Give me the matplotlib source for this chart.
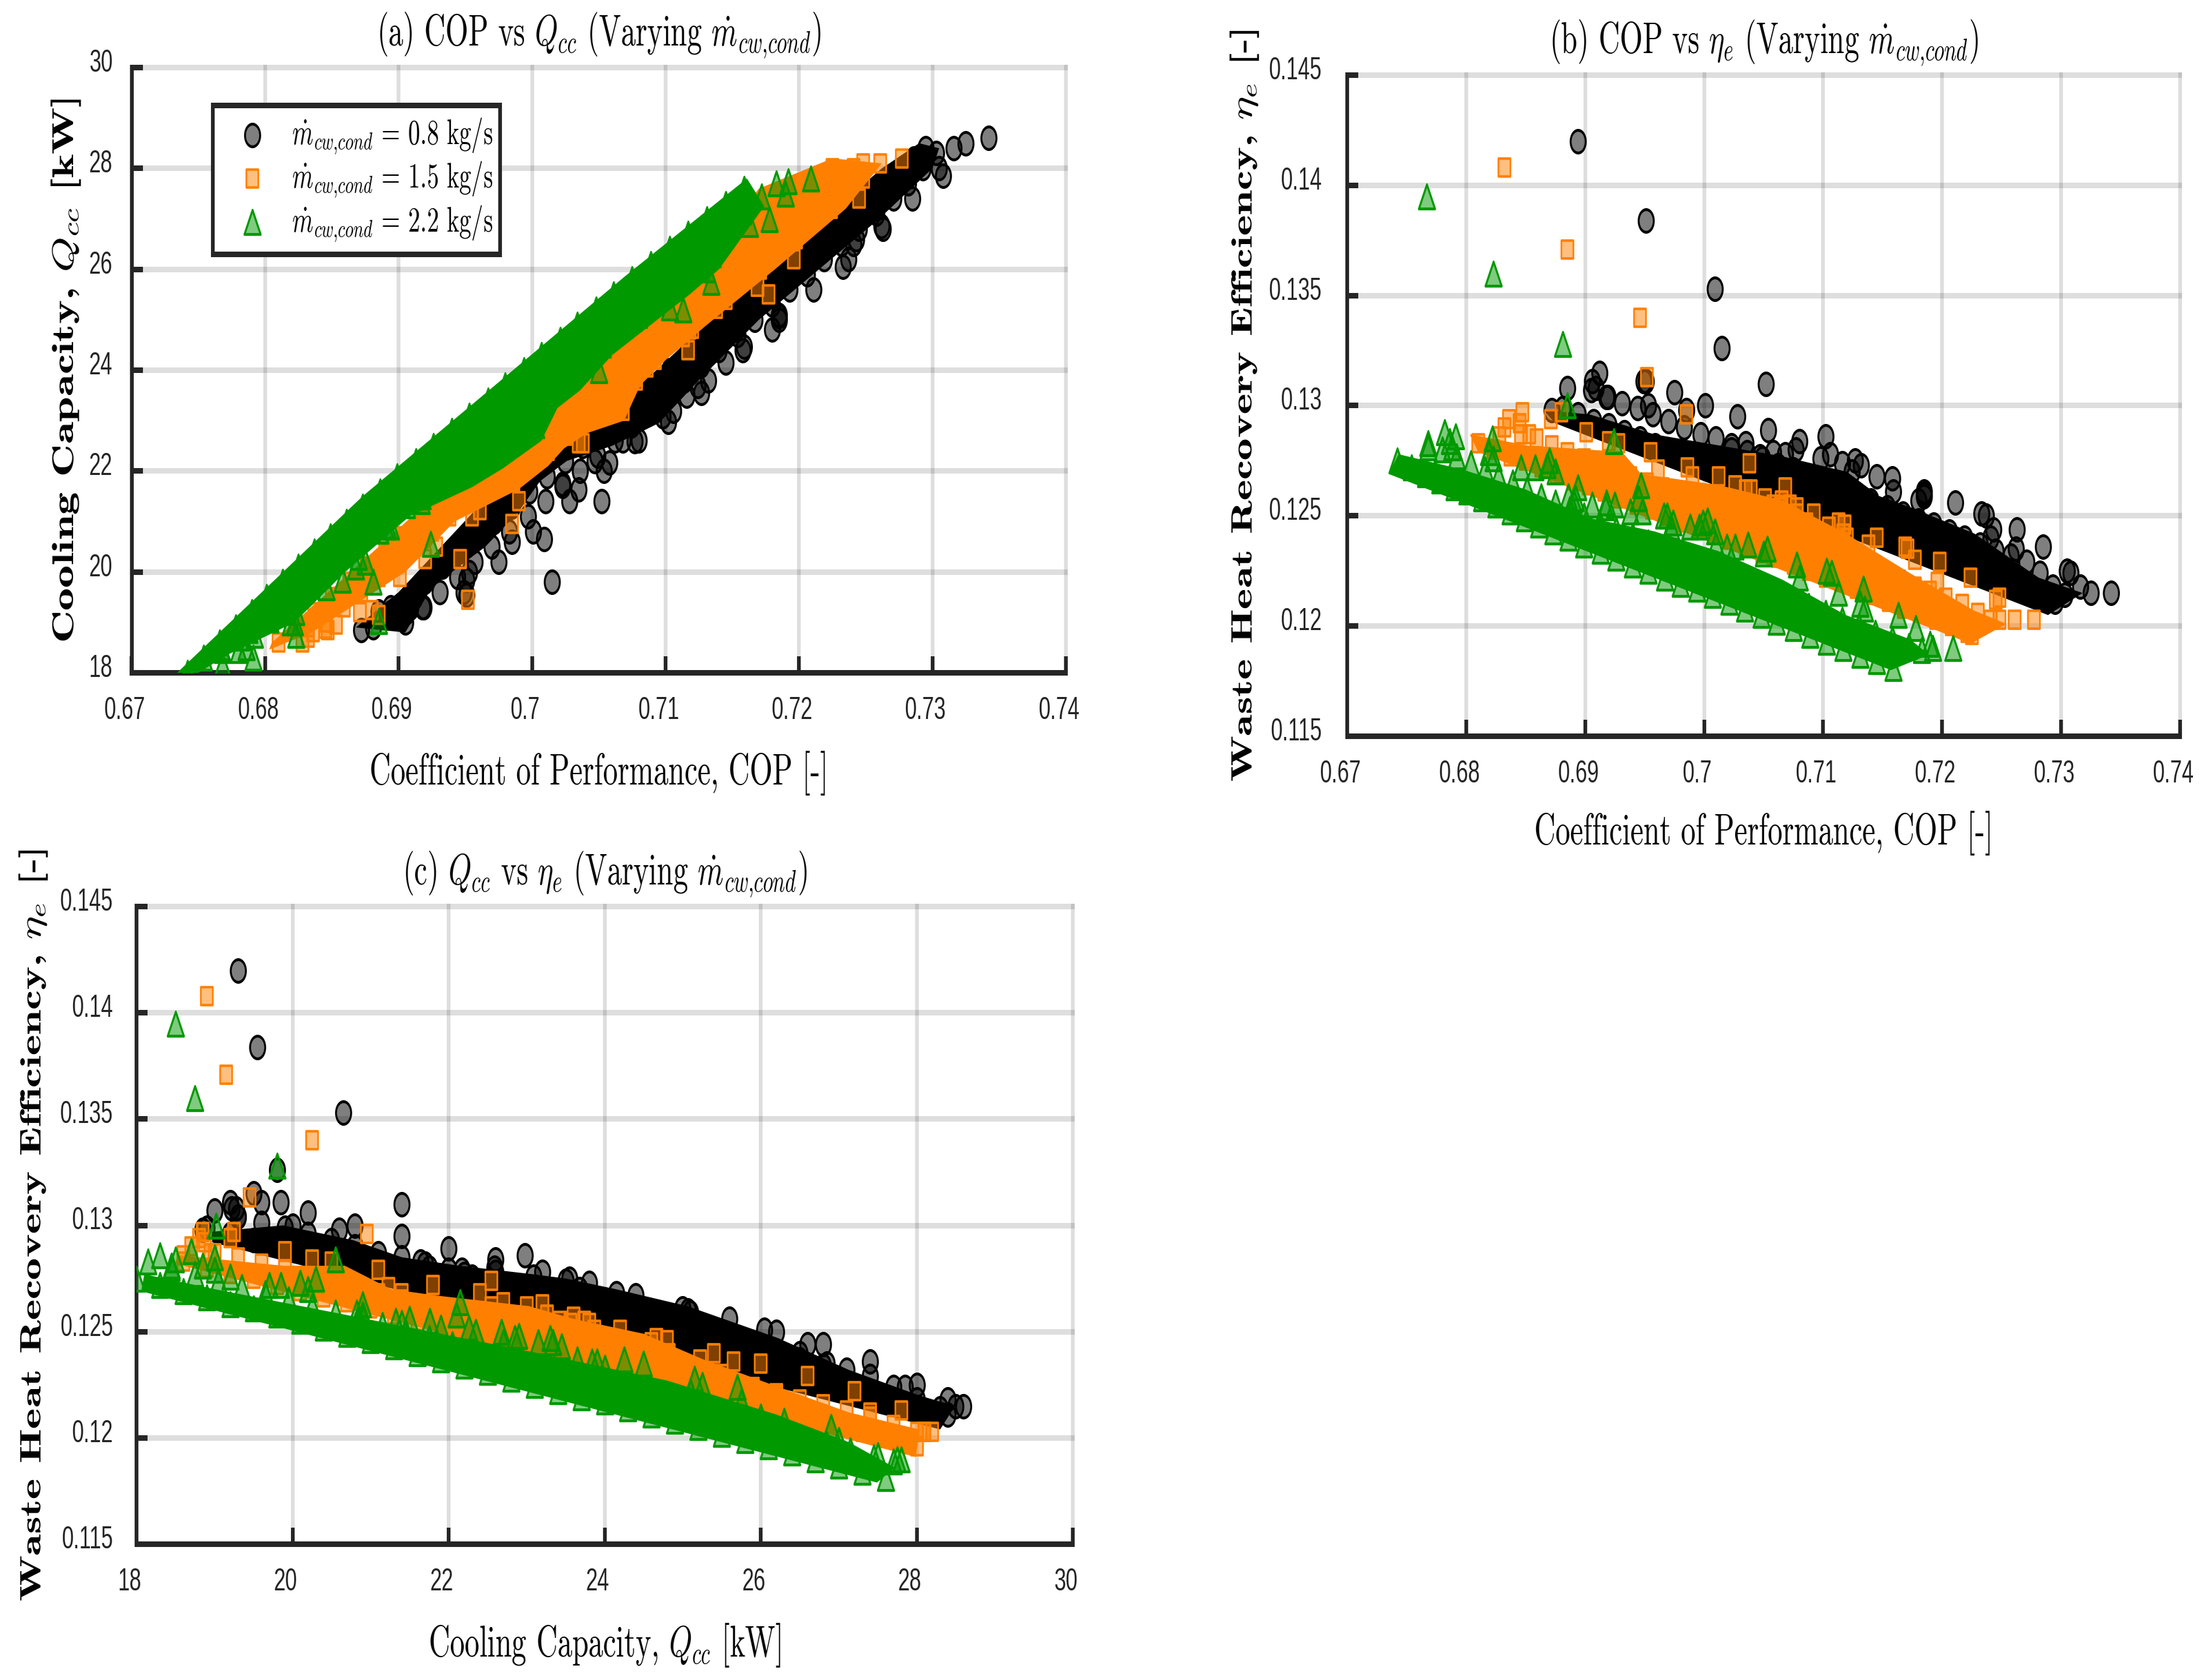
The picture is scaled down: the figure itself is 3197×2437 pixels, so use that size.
import io
import matplotlib
matplotlib.use('Agg')
import matplotlib.pyplot as plt
from matplotlib.transforms import ScaledTranslation
from PIL import Image

# values: rows along each band, then the loose points
black_cop = [
    .6872, .6881, .6894, .6907, .6920, .6933, .6946, .6959, .6972, .6985, .6998, .7011, .7025, .7038, .7051, .7064, .7077,
    .7090, .7103, .7116, .7129, .7142, .7155, .7168, .7181, .7195, .7208, .7221, .7234, .7247, .7260, .7273, .7286, .7295,
    .6905, .6918, .6931, .6944, .6957, .6970, .6983, .6997, .7010, .7023, .7036, .7049, .7062, .7075, .7088, .7101,
    .7114, .7127, .7140, .7154, .7167, .7180, .7193, .7206, .7219, .7232, .7245, .7258, .7271, .7282, .7293, .7303,
    .6949, .6975, .7001, .7028, .7054, .7080, .7106, .7132, .7158, .7185, .7211, .7237, .7263, .7285, .7305, .7316,
    .6894, .6951, .7009, .7015, .7052, .6912, .6906, .6909, .6885, .6919, .6951, .6953, .6985, .7102, .7127, .7185,
    .7233, .7243, .7262, .7308, .7325, .7342, .7023, .7047, .7068, .7241, .7180,
    .7035, .7058, .7077, .7098, .7116, .7124, .7145, .7159, .7185]
black_q = [
    18.85, 18.9, 19.2, 19.5, 19.8, 20.1, 20.4, 20.7, 21.0, 21.3, 21.6, 21.9, 22.2, 22.5, 22.8, 23.1, 23.4,
    23.7, 24.0, 24.3, 24.6, 24.9, 25.2, 25.5, 25.8, 26.1, 26.4, 26.7, 27.0, 27.3, 27.6, 27.9, 28.2, 28.4,
    19.0, 19.3, 19.6, 19.9, 20.2, 20.5, 20.8, 21.1, 21.4, 21.7, 22.0, 22.3, 22.6, 22.9, 23.2, 23.5,
    23.8, 24.1, 24.4, 24.7, 25.0, 25.3, 25.6, 25.9, 26.2, 26.5, 26.8, 27.1, 27.4, 27.7, 28.0, 28.3,
    19.6, 20.2, 20.8, 21.4, 22.0, 22.6, 23.2, 23.8, 24.4, 25.0, 25.6, 26.2, 26.8, 27.4, 28.0, 28.4,
    19.30, 19.55, 20.65, 19.80, 21.40, 19.50, 19.20, 19.28, 19.22, 19.30, 19.85, 20.00, 20.60, 22.98, 23.55, 25.10,
    26.05, 26.60, 26.85, 27.85, 28.50, 28.60, 21.75, 22.20, 22.60, 26.50, 24.80,
    21.64, 22.17, 22.59, 23.09, 23.50, 23.68, 24.15, 24.47, 25.07]
black_eta = [
    .1298, .1299, .1296, .1293, .1291, .1288, .1285, .1282, .1279, .1277, .1274, .1271, .1268, .1265, .1263, .1260, .1257,
    .1254, .1251, .1249, .1246, .1243, .1240, .1238, .1235, .1232, .1229, .1226, .1224, .1221, .1218, .1215, .1212, .1211,
    .1307, .1304, .1301, .1299, .1296, .1293, .1290, .1287, .1285, .1282, .1279, .1276, .1273, .1271, .1268, .1265,
    .1262, .1259, .1257, .1254, .1251, .1248, .1246, .1243, .1240, .1237, .1234, .1232, .1229, .1224, .1218, .1214,
    .1311, .1306, .1300, .1295, .1289, .1284, .1278, .1273, .1267, .1261, .1256, .1250, .1244, .1236, .1225, .1218,
    .1420, .1384, .1353, .1326, .1310, .1315, .1311, .1308, .1308, .1304, .1311, .1300, .1298, .1286, .1275, .1259,
    .1251, .1244, .1235, .1224, .1215, .1215, .1280, .1277, .1278, .1240, .1257,
    .1283, .1279, .1280, .1276, .1274, .1270, .1268, .1261, .1260]

orange_cop = [
    .6810, .6823, .6837, .6850, .6863, .6876, .6890, .6903, .6916, .6929, .6943, .6956, .6969, .6982, .6996, .7009, .7022,
    .7035, .7049, .7062, .7075, .7088, .7102, .7115, .7128, .7142, .7155, .7168, .7181, .7195, .7208, .7221, .7225,
    .6832, .6846, .6859, .6872, .6885, .6899, .6912, .6925, .6938, .6952, .6965, .6978, .6991, .7005, .7018, .7031, .7044,
    .7058, .7071, .7084, .7097, .7111, .7124, .7137, .7150, .7164, .7177, .7190, .7203, .7217, .7230, .7241, .7248,
    .6871, .6901, .6928, .6955, .6986, .7012, .7039, .7065, .7092, .7118, .7145, .7171, .7198, .7224, .7248,
    .6832, .6885, .6946, .6952, .6985, .7038, .7078, .7117, .7169, .7177, .7196, .7245, .7261, .7277, .6847, .6845,
    .6853, .6836, .6828, .6920, .6880, .6990, .7035, .7068, .7105,
    .6961, .7026, .7051, .7058, .7064, .7072, .7078, .7086, .7113, .7120, .7138]
orange_q = [
    18.6, 18.9, 19.2, 19.5, 19.8, 20.1, 20.4, 20.7, 21.0, 21.3, 21.6, 21.9, 22.2, 22.5, 22.8, 23.1, 23.4,
    23.7, 24.0, 24.3, 24.6, 24.9, 25.2, 25.5, 25.8, 26.1, 26.4, 26.7, 27.0, 27.3, 27.6, 27.9, 28.0,
    18.7, 19.0, 19.3, 19.6, 19.9, 20.2, 20.5, 20.8, 21.1, 21.4, 21.7, 22.0, 22.3, 22.6, 22.9, 23.2, 23.5,
    23.8, 24.1, 24.4, 24.7, 25.0, 25.3, 25.6, 25.9, 26.2, 26.5, 26.8, 27.1, 27.4, 27.7, 28.0, 28.1,
    19.2, 19.9, 20.5, 21.1, 21.8, 22.4, 23.0, 23.6, 24.2, 24.8, 25.4, 26.0, 26.6, 27.2, 27.8,
    18.90, 19.15, 20.25, 19.45, 20.95, 22.55, 23.80, 24.40, 25.65, 25.50, 26.20, 27.40, 28.10, 28.20, 18.85, 18.88,
    18.95, 18.80, 18.60, 20.25, 19.25, 21.40, 22.55, 23.20, 24.60,
    21.23, 22.70, 23.26, 23.43, 23.56, 23.74, 23.87, 24.05, 24.66, 24.82, 25.22]
orange_eta = [
    .1283, .1280, .1277, .1275, .1272, .1269, .1266, .1264, .1261, .1258, .1255, .1253, .1250, .1247, .1244, .1242, .1239,
    .1236, .1233, .1231, .1228, .1225, .1222, .1220, .1217, .1214, .1211, .1208, .1206, .1203, .1200, .1197, .1196,
    .1290, .1287, .1285, .1282, .1279, .1276, .1274, .1271, .1268, .1265, .1263, .1260, .1257, .1254, .1252, .1249, .1246,
    .1243, .1241, .1238, .1235, .1232, .1230, .1227, .1224, .1221, .1218, .1216, .1213, .1210, .1206, .1203, .1203,
    .1294, .1288, .1283, .1279, .1272, .1268, .1262, .1257, .1251, .1246, .1240, .1235, .1229, .1222, .1213,
    .1408, .1371, .1340, .1313, .1296, .1274, .1254, .1242, .1236, .1230, .1220, .1212, .1203, .1203, .1297, .1292,
    .1287, .1294, .1286, .1284, .1297, .1268, .1262, .1263, .1245,
    .1271, .1264, .1258, .1255, .1254, .1255, .1251, .1247, .1247, .1240, .1237]

green_cop = [
    .6742, .6754, .6766, .6778, .6790, .6801, .6813, .6825, .6837, .6849, .6861, .6873, .6886, .6899, .6913, .6926, .6940,
    .6953, .6967, .6980, .6994, .7007, .7021, .7034, .7048, .7061, .7075, .7089, .7103, .7117, .7131, .7145, .7159,
    .6768, .6780, .6792, .6804, .6816, .6827, .6839, .6851, .6863, .6875, .6887, .6899, .6912, .6926, .6940, .6953, .6966,
    .6980, .6994, .7007, .7020, .7034, .7047, .7061, .7075, .7088, .7102, .7116, .7130, .7144, .7158, .7172, .7183,
    .6791, .6819, .6846, .6870, .6894, .6918, .6945, .6972, .6999, .7026, .7053, .7080, .7107, .7135, .7163, .7190,
    .6886, .6890, .6906, .6925, .6948, .6966, .6974, .6988, .6996, .7010, .7019, .7037, .7078,
    .6767, .6823, .6881, .6885, .6768, .6782, .6786, .6788, .6822, .6823, .6858, .6868, .6875, .6892, .6924, .6917,
    .6938, .6947, .6969, .7003, .7009, .7050, .7103, .7113, .7131, .7134, .7178, .7192, .7209]
green_q = [
    18.0, 18.3, 18.6, 18.9, 19.2, 19.5, 19.8, 20.1, 20.4, 20.7, 21.0, 21.3, 21.6, 21.9, 22.2, 22.5, 22.8,
    23.1, 23.4, 23.7, 24.0, 24.3, 24.6, 24.9, 25.2, 25.5, 25.8, 26.1, 26.4, 26.7, 27.0, 27.3, 27.6,
    18.15, 18.45, 18.75, 19.05, 19.35, 19.65, 19.95, 20.25, 20.55, 20.85, 21.15, 21.45, 21.75, 22.05, 22.35, 22.65, 22.95,
    23.25, 23.55, 23.85, 24.15, 24.45, 24.75, 25.05, 25.35, 25.65, 25.95, 26.25, 26.55, 26.85, 27.15, 27.45, 27.70,
    18.3, 19.0, 19.7, 20.3, 20.9, 21.5, 22.1, 22.7, 23.3, 23.9, 24.5, 25.1, 25.7, 26.3, 26.9, 27.5,
    20.82, 20.91, 21.32, 21.76, 22.26, 22.68, 22.85, 23.15, 23.34, 23.65, 23.84, 24.25, 25.15,
    18.50, 18.75, 19.80, 19.02, 18.45, 18.70, 18.50, 18.85, 19.00, 19.20, 19.85, 20.10, 20.20, 20.90, 20.55, 21.40,
    21.90, 22.15, 22.35, 22.90, 23.45, 24.00, 25.25, 25.20, 26.00, 25.75, 27.00, 27.75, 27.80]
green_eta = [
    .1275, .1272, .1269, .1266, .1263, .1261, .1258, .1255, .1252, .1249, .1246, .1243, .1240, .1237, .1234, .1231, .1228,
    .1225, .1222, .1219, .1217, .1214, .1211, .1208, .1205, .1202, .1199, .1196, .1193, .1190, .1187, .1184, .1181,
    .1283, .1280, .1277, .1274, .1271, .1268, .1265, .1262, .1259, .1256, .1253, .1250, .1247, .1244, .1241, .1238, .1235,
    .1233, .1230, .1227, .1224, .1221, .1218, .1215, .1212, .1209, .1206, .1203, .1200, .1197, .1194, .1191, .1189,
    .1286, .1279, .1272, .1275, .1263, .1256, .1258, .1245, .1247, .1236, .1235, .1222, .1224, .1208, .1205, .1192,
    .1259, .1257, .1255, .1255, .1252, .1250, .1247, .1245, .1245, .1237, .1236, .1237, .1228,
    .1395, .1360, .1328, .1300, .1281, .1288, .1284, .1281, .1285, .1276, .1272, .1273, .1270, .1258, .1284, .1254,
    .1252, .1264, .1250, .1248, .1243, .1233, .1225, .1215, .1210, .1217, .1199, .1190, .1190]

# outlines of the solid areas where the original markers pile up too thick to tell apart
black_band_a_cop = [.6868, .6905, .6925, .6965, .6990, .7006, .7026, .7060, .7095, .7125, .7170, .7215, .7260, .7300, .7305, .7290, .7262, .7170, .7085, .6993, .6967, .6900]
black_band_a_q = [18.9, 18.8, 19.7, 20.5, 21.2, 21.8, 22.2, 22.5, 22.95, 23.8, 25.0, 26.0, 27.0, 28.0, 28.4, 28.5, 28.0, 25.9, 23.8, 22.09, 21.5, 19.6]
orange_band_a_cop = [.6803, .6835, .6905, .6942, .6990, .7012, .7024, .7041, .7069, .7081, .7100, .7131, .7182, .7235, .7262, .7225, .7170, .7120, .7055, .6960, .6860, .6805]
orange_band_a_q = [18.46, 18.8, 20.0, 21.0, 21.64, 22.1, 22.45, 22.75, 23.0, 23.7, 24.2, 24.9, 26.0, 27.2, 28.1, 28.2, 27.6, 26.0, 24.6, 22.3, 19.9, 18.6]
green_band_a_cop = [.6734, .6873, .7070, .7161, .7174, .7140, .7118, .7060, .7036, .7019, .7007, .6978, .6955, .6908, .6860, .6822, .6772, .6750]
green_band_a_q = [18.0, 21.5, 25.87, 27.8, 27.25, 26.0, 25.5, 24.3, 23.6, 23.25, 22.6, 22.05, 21.68, 21.1, 20.0, 19.0, 18.36, 18.0]

black_band_b_cop = [.6865, .6904, .6958, .7012, .7066, .7120, .7147, .7173, .7227, .7281, .7318, .7289, .6875]
black_band_b_eta = [.1298, .1296, .1287, .1282, .1277, .1270, .1259, .1254, .1242, .1222, .1215, .1205, .1292]
orange_band_b_cop = [.6803, .6851, .6931, .6947, .7012, .7066, .7119, .7173, .7227, .7254, .7224, .6810]
orange_band_b_eta = [.1287, .1282, .1279, .1269, .1264, .1257, .1242, .1224, .1207, .1201, .1192, .1279]
green_band_b_cop = [.6735, .6743, .6797, .6850, .6904, .6958, .7012, .7066, .7119, .7173, .7189, .7157]
green_band_b_eta = [.1269, .1278, .1271, .1262, .1249, .1243, .1234, .1221, .1205, .1194, .1187, .1180]

black_band_c_q = [18.97, 19.88, 20.78, 21.40, 22.14, 23.08, 23.50, 24.14, 25.06, 26.22, 27.13, 28.03, 28.49, 28.30, 18.97]
black_band_c_eta = [.1297, .1300, .1293, .1285, .1281, .1277, .1275, .1270, .1262, .1247, .1232, .1220, .1215, .1204, .1292]
orange_band_c_q = [18.52, 19.88, 20.67, 21.26, 21.84, 23.03, 23.60, 24.50, 25.26, 26.22, 27.13, 28.03, 27.99, 18.50]
orange_band_c_eta = [.1286, .1281, .1281, .1270, .1267, .1262, .1256, .1249, .1237, .1224, .1212, .1204, .1191, .1282]
green_band_c_q = [18.06, 18.10, 19.00, 20.67, 23.00, 24.80, 26.20, 27.13, 27.72, 27.49]
green_band_c_eta = [.1269, .1277, .1270, .1258, .1241, .1227, .1211, .1198, .1186, .1179]

cop_ticks = [0.67, 0.68, 0.69, 0.70, 0.71, 0.72, 0.73, 0.74]
cop_labels = ['0.67', '0.68', '0.69', '0.7', '0.71', '0.72', '0.73', '0.74']
q_ticks = [18, 20, 22, 24, 26, 28, 30]
q_labels = ['18', '20', '22', '24', '26', '28', '30']
eta_ticks = [0.115, 0.12, 0.125, 0.13, 0.135, 0.14, 0.145]
eta_labels = ['0.115', '0.12', '0.125', '0.13', '0.135', '0.14', '0.145']

W, H = 3197, 2437
SQUEEZE = 1.5  # the original figure was squashed sideways, so draw wide and shrink after

plt.rcParams['font.family'] = ['cmr10', 'DejaVu Serif']
plt.rcParams['mathtext.fontset'] = 'cm'
plt.rcParams['axes.formatter.use_mathtext'] = True
plt.rcParams['axes.unicode_minus'] = False

DARK = '#262626'
LW = 5.8

series = [
    (black_cop, black_q, black_eta, 'o', (0, 0, 0), 560, 3.0, r'$\dot{m}_{cw{,}cond}$ = 0.8 kg/s'),
    (orange_cop, orange_q, orange_eta, 's', (1, .5, 0), 330, 2.6, r'$\dot{m}_{cw{,}cond}$ = 1.5 kg/s'),
    (green_cop, green_q, green_eta, '^', (0, .6, 0), 640, 3.0, r'$\dot{m}_{cw{,}cond}$ = 2.2 kg/s'),
]


def add_panel(fig, box, xcol, ycol, bands, xt, xl, yt, yl, title, xlabel, ylabel, ysize, ypad, ylab_x, xlab_y):
    left, bottom, width, height = box
    ax = fig.add_axes([left / W, 1 - bottom / H, width / W, height / H])
    for i, s in enumerate(series):
        ax.fill(bands[i][0], bands[i][1], color=s[4], linewidth=0, zorder=3 + 2 * i)
        ax.scatter(s[xcol], s[ycol], marker=s[3], s=s[5], linewidths=s[6],
                   facecolors=[s[4] + (.5,)], edgecolors=[s[4]], label=s[7], zorder=4 + 2 * i)
    ax.set_xlim(xt[0], xt[-1])
    ax.set_ylim(yt[0], yt[-1])
    ax.set_xticks(xt)
    ax.set_yticks(yt)
    ax.set_xticklabels(xl, family='Liberation Sans', fontsize=33)
    ax.set_yticklabels(yl, family='Liberation Sans', fontsize=33)
    ax.tick_params(direction='in', length=17, width=LW, color=DARK, labelcolor='#262626')
    ax.tick_params(axis='x', pad=24)
    ax.tick_params(axis='y', pad=ypad)
    ax.grid(True, color='k', alpha=.13, linewidth=LW)
    ax.set_axisbelow(True)
    for line in ax.get_xgridlines() + ax.get_ygridlines():
        line.set_clip_on(False)
    for side in ['top', 'right']:
        ax.spines[side].set_visible(False)
    for side in ['left', 'bottom']:
        ax.spines[side].set_linewidth(LW)
        ax.spines[side].set_color(DARK)
    # tick labels sit a bit left of / above their ticks in the original
    for t in ax.get_xticklabels():
        t.set_transform(t.get_transform() + ScaledTranslation(-11 / 72, 0, fig.dpi_scale_trans))
    for t in ax.get_yticklabels():
        t.set_transform(t.get_transform() + ScaledTranslation(0, 8 / 72, fig.dpi_scale_trans))
    ax.set_title(title, fontsize=46, pad=22.5)
    ax.set_xlabel(xlabel, fontsize=46, va='center')
    ax.set_ylabel(ylabel, fontsize=ysize, va='center', family=['cmb10', 'cmr10'])
    ax.xaxis.set_label_coords(.5, xlab_y)
    ax.yaxis.set_label_coords(ylab_x, .5)
    return ax


fig = plt.figure(figsize=(W * SQUEEZE / 100, H / 100), dpi=100)

bands_a = [(black_band_a_cop, black_band_a_q), (orange_band_a_cop, orange_band_a_q), (green_band_a_cop, green_band_a_q)]
bands_b = [(black_band_b_cop, black_band_b_eta), (orange_band_b_cop, orange_band_b_eta), (green_band_b_cop, green_band_b_eta)]
bands_c = [(black_band_c_q, black_band_c_eta), (orange_band_c_q, orange_band_c_eta), (green_band_c_q, green_band_c_eta)]

ax_a = add_panel(fig, (191, 976, 1355, 878), 0, 1, bands_a, cop_ticks, cop_labels, q_ticks, q_labels,
                 r'(a) COP vs $Q_{cc}$ (Varying $\dot{m}_{cw{,}cond}$)',
                 'Coefficient of Performance, COP [-]',
                 r'Cooling Capacity, $Q_{cc}$ [kW]', 47.5, 30, -.07, -.166)
add_panel(fig, (1954, 1068, 1208, 959), 0, 2, bands_b, cop_ticks, cop_labels, eta_ticks, eta_labels,
          r'(b) COP vs $\eta_e$ (Varying $\dot{m}_{cw{,}cond}$)',
          'Coefficient of Performance, COP [-]',
          r'Waste Heat Recovery Efficiency, $\eta_e$ [-]', 46.5, 40, -.123, -.147)
add_panel(fig, (198, 2240, 1358, 925), 1, 2, bands_c, q_ticks, q_labels, eta_ticks, eta_labels,
          r'(c) $Q_{cc}$ vs $\eta_e$ (Varying $\dot{m}_{cw{,}cond}$)',
          r'Cooling Capacity, $Q_{cc}$ [kW]',
          r'Waste Heat Recovery Efficiency, $\eta_e$ [-]', 46.5, 37, -.11, -.158)

leg = ax_a.legend(loc='upper left', bbox_to_anchor=(.087, .937), borderaxespad=0, fontsize=37.5,
                  fancybox=False, framealpha=1, edgecolor=DARK, scatterpoints=1,
                  labelspacing=.1, handlelength=2.7, handletextpad=.3, borderpad=.3)
leg.get_frame().set_linewidth(LW)
leg.set_zorder(10)

# render wide, then squash to the final size
buf = io.BytesIO()
fig.savefig(buf, dpi=100, format='png')
buf.seek(0)
img = Image.open(buf).convert('RGB').resize((W, H), Image.LANCZOS)
img.save('out.png')
plt.close(fig)
